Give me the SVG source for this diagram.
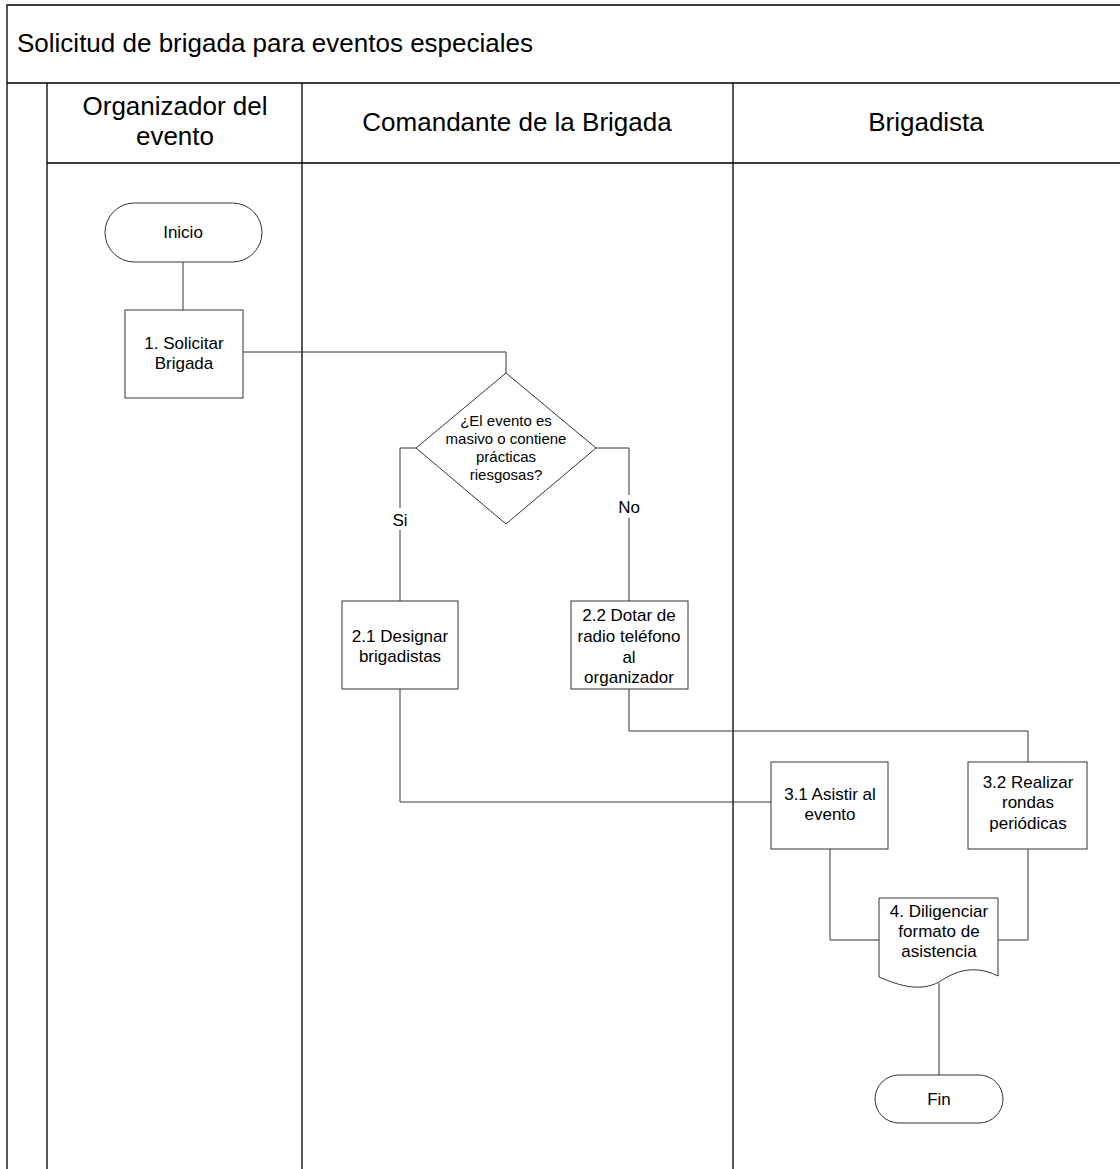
<svg xmlns="http://www.w3.org/2000/svg" width="1120" height="1169" viewBox="0 0 1120 1169">
<style>
text{font-family:"Liberation Sans",Arial,sans-serif;fill:#000}
.lane{fill:none;stroke:#000;stroke-width:1.3}
.shape{fill:#fff;stroke:#333;stroke-width:1}
.conn{fill:none;stroke:#333;stroke-width:1}
.t14{font-size:17px;text-anchor:middle}
.t13{font-size:15px;text-anchor:middle}
.hdr{font-size:26px;text-anchor:middle}
</style>
<rect width="1120" height="1169" fill="#fff"/>
<g id="pool">
<path class="lane" d="M7,1169 V5 H1121 M7,83 H1121 M47,83 V1169 M47,163 H1121 M302,83 V1169 M733,83 V1169"/>
<text x="17" y="52" font-size="26">Solicitud de brigada para eventos especiales</text>
<text class="hdr" x="175" y="115">Organizador del</text>
<text class="hdr" x="175" y="145">evento</text>
<text class="hdr" x="517" y="131">Comandante de la Brigada</text>
<text class="hdr" x="926" y="131">Brigadista</text>
</g>
<g id="connectors">
<path class="conn" d="M183,262 V310"/>
<path class="conn" d="M243,352 H506 V373"/>
<path class="conn" d="M416,448 H400 V508 M400,530 V601"/>
<path class="conn" d="M596,448 H629 V495 M629,518 V601"/>
<path class="conn" d="M400,689 V802 H771"/>
<path class="conn" d="M629,689 V731 H1028 V762"/>
<path class="conn" d="M830,849 V940 H879"/>
<path class="conn" d="M1028,849 V940 H998"/>
<path class="conn" d="M939,983 V1075"/>
<text class="t14" x="400" y="526">Si</text>
<text class="t14" x="629" y="513">No</text>
</g>
<g id="inicio">
<rect class="shape" x="105" y="203" width="157" height="59" rx="29.5"/>
<text class="t14" x="183" y="238">Inicio</text>
</g>
<g id="n1">
<rect class="shape" x="125" y="310" width="118" height="88"/>
<text class="t14" x="184" y="349">1. Solicitar</text>
<text class="t14" x="184" y="369">Brigada</text>
</g>
<g id="decision">
<polygon class="shape" points="506,373 596,448 506,524 416,448"/>
<text class="t13" x="506" y="426">¿El evento es</text>
<text class="t13" x="506" y="444">masivo o contiene</text>
<text class="t13" x="506" y="462">prácticas</text>
<text class="t13" x="506" y="480">riesgosas?</text>
</g>
<g id="n21">
<rect class="shape" x="342" y="601" width="116" height="88"/>
<text class="t14" x="400" y="642">2.1 Designar</text>
<text class="t14" x="400" y="662">brigadistas</text>
</g>
<g id="n22">
<rect class="shape" x="571" y="601" width="117" height="88"/>
<text class="t14" x="629" y="621">2.2 Dotar de</text>
<text class="t14" x="629" y="642">radio teléfono</text>
<text class="t14" x="629" y="663">al</text>
<text class="t14" x="629" y="683">organizador</text>
</g>
<g id="n31">
<rect class="shape" x="771" y="762" width="117" height="87"/>
<text class="t14" x="830" y="800">3.1 Asistir al</text>
<text class="t14" x="830" y="820">evento</text>
</g>
<g id="n32">
<rect class="shape" x="968" y="762" width="119" height="87"/>
<text class="t14" x="1028" y="788">3.2 Realizar</text>
<text class="t14" x="1028" y="808">rondas</text>
<text class="t14" x="1028" y="829">periódicas</text>
</g>
<g id="n4">
<path class="shape" d="M879,898 H998 V976 C970,962 950,975 939,982 C920,992 900,986 879,977 Z"/>
<text class="t14" x="939" y="917">4. Diligenciar</text>
<text class="t14" x="939" y="937">formato de</text>
<text class="t14" x="939" y="957">asistencia</text>
</g>
<g id="fin">
<rect class="shape" x="875" y="1075" width="128" height="48" rx="24"/>
<text class="t14" x="939" y="1105">Fin</text>
</g>
</svg>
